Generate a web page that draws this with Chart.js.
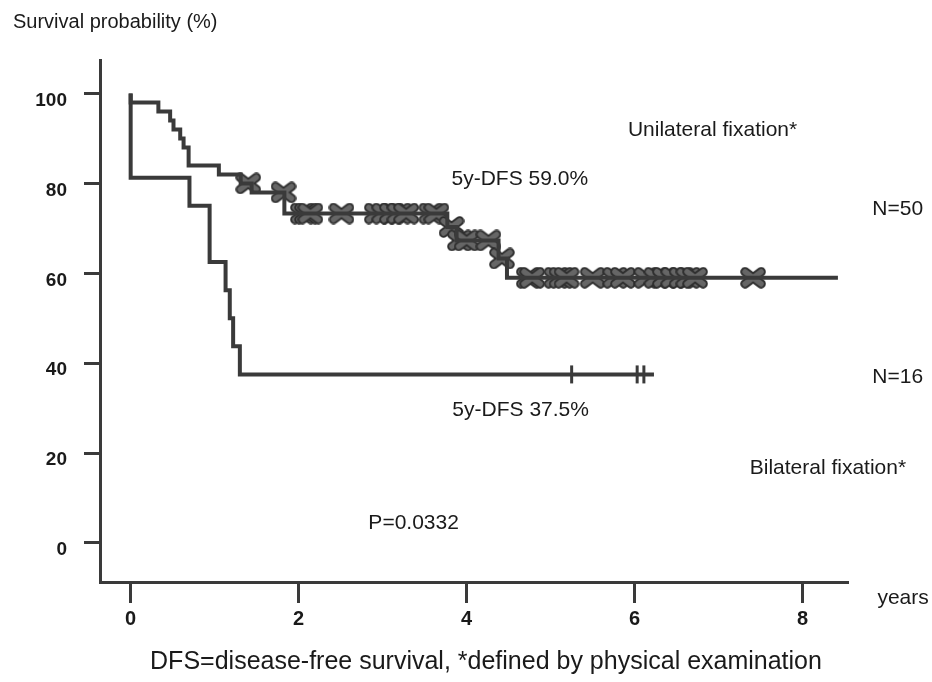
<!DOCTYPE html>
<html>
<head>
<meta charset="utf-8">
<script src="https://cdn.jsdelivr.net/npm/chart.js@4.4.0/dist/chart.umd.min.js"></script>
<style>
  html, body { margin: 0; padding: 0; background: #fff; }
  #wrap { width: 932px; height: 682px; }
</style>
</head>
<body>
<div id="wrap"><canvas id="kmChart" width="932" height="682"></canvas></div>
<script>
// Kaplan-Meier steps (time in years, survival in %)
const uniTimes = [0, 0, 0.33, 0.47, 0.51, 0.59, 0.63, 0.69, 1.05, 1.31, 1.44, 1.83, 3.77, 3.88, 4.38, 4.48, 8.42];
const uniSurv  = [100, 98, 96, 94, 92, 90, 88, 84, 82, 80, 78, 73.3, 70.3, 67.3, 63.3, 59.0, 59.0];
const uniCensored = [1.40, 1.82, 2.05, 2.10, 2.14, 2.51, 2.93, 3.02, 3.11, 3.20, 3.28, 3.58, 3.64,
                     3.82, 3.92, 4.00, 4.26, 4.42, 4.74, 4.78, 5.07, 5.13, 5.19, 5.50, 5.77, 5.86,
                     6.14, 6.26, 6.36, 6.46, 6.56, 6.64, 6.72, 7.41];

const biTimes = [0, 0, 0.70, 0.94, 1.13, 1.18, 1.22, 1.30, 6.23];
const biSurv  = [100, 81.25, 75, 62.5, 56.25, 50, 43.75, 37.5, 37.5];
const biCensored = [5.25, 6.03, 6.11];

const xTicks = [0, 2, 4, 6, 8];
const yTicks = [0, 20, 40, 60, 80, 100];

// text notes placed in data units
const noteLabels = ['Unilateral fixation*', '5y-DFS 59.0%', 'N=50', 'N=16',
                    '5y-DFS 37.5%', 'Bilateral fixation*', 'P=0.0332', 'years'];
const noteX = [5.92, 3.82, 8.83, 8.83, 3.83, 7.37, 2.83, 8.89];
const noteY = [91.8, 81.0, 74.2, 36.9, 29.6, 16.7, 4.4, -12.2];

const FONT = '"Liberation Sans", Arial, Helvetica, sans-serif';
const INK = '#1a1a1a';
const LINE = '#3a3a3a';

// value of a step curve at time t
function survivalAt(times, surv, t) {
    let s = surv[0];
    for (let i = 0; i < times.length; i++) {
        if (times[i] <= t) s = surv[i];
    }
    return s;
}

// fat X like the scanned censor marks
function makeCross() {
    const c = document.createElement('canvas');
    c.width = 26; c.height = 22;
    const g = c.getContext('2d');
    g.lineCap = 'round';
    const draw = (w, col) => {
        g.strokeStyle = col;
        g.lineWidth = w;
        g.beginPath();
        g.moveTo(5, 5); g.lineTo(21, 17);
        g.moveTo(21, 5); g.lineTo(5, 17);
        g.stroke();
    };
    draw(9.5, '#2e2e2e');
    draw(5.5, '#666666');
    return c;
}

const toPoints = (times, surv) => times.map((t, i) => ({ x: t, y: surv[i] }));

const textPlugin = {
    id: 'kmText',
    afterDraw(chart) {
        const { ctx, scales: { x, y } } = chart;
        ctx.save();
        ctx.fillStyle = INK;
        ctx.textBaseline = 'middle';
        ctx.textAlign = 'left';
        ctx.font = '21px ' + FONT;
        noteLabels.forEach((label, i) => {
            ctx.fillText(label, x.getPixelForValue(noteX[i]), y.getPixelForValue(noteY[i]));
        });
        ctx.font = '20px ' + FONT;
        ctx.fillText('Survival probability (%)', 13, 22);
        ctx.font = '25px ' + FONT;
        ctx.textAlign = 'center';
        ctx.fillText('DFS=disease-free survival, *defined by physical examination', 486, 662);
        ctx.restore();
    }
};

function initChart() {
    const ctx = document.getElementById('kmChart').getContext('2d');
    const cross = makeCross();

    const data = {
        datasets: [
            {
                label: 'Unilateral fixation',
                data: toPoints(uniTimes, uniSurv),
                stepped: 'before',
                borderColor: LINE,
                borderWidth: 4,
                pointRadius: 0,
                fill: false
            },
            {
                label: 'Bilateral fixation',
                data: toPoints(biTimes, biSurv),
                stepped: 'before',
                borderColor: LINE,
                borderWidth: 4,
                pointRadius: 0,
                fill: false
            },
            {
                label: 'Unilateral censored',
                data: uniCensored.map(t => ({ x: t, y: survivalAt(uniTimes, uniSurv, t) })),
                showLine: false,
                pointStyle: cross,
                pointRadius: 11
            },
            {
                label: 'Bilateral censored',
                data: biCensored.map(t => ({ x: t, y: survivalAt(biTimes, biSurv, t) })),
                showLine: false,
                pointStyle: 'line',
                rotation: 90,
                pointRadius: 9,
                pointBorderWidth: 3,
                pointBorderColor: LINE
            }
        ]
    };

    const config = {
        type: 'line',
        data: data,
        plugins: [textPlugin],
        options: {
            responsive: false,
            animation: false,
            events: [],
            devicePixelRatio: 1,
            layout: { padding: { top: 60, right: 84, left: 0, bottom: 0 } },
            plugins: {
                legend: { display: false },
                tooltip: { enabled: false }
            },
            scales: {
                x: {
                    type: 'linear',
                    min: -0.365,
                    max: 8.54,
                    afterFit: (scale) => { scale.height = 100; },
                    afterBuildTicks: (scale) => { scale.ticks = xTicks.map(v => ({ value: v })); },
                    border: { display: true, color: LINE, width: 3 },
                    grid: {
                        drawOnChartArea: false,
                        drawTicks: true,
                        tickLength: 21,
                        tickWidth: 3,
                        tickColor: LINE
                    },
                    ticks: {
                        padding: 4,
                        color: INK,
                        font: { family: FONT, size: 20, weight: 'bold' }
                    }
                },
                y: {
                    type: 'linear',
                    min: -8.68,
                    max: 107.45,
                    afterFit: (scale) => { scale.width = 100; },
                    afterBuildTicks: (scale) => { scale.ticks = yTicks.map(v => ({ value: v })); },
                    border: { display: true, color: LINE, width: 3 },
                    grid: {
                        drawOnChartArea: false,
                        drawTicks: true,
                        tickLength: 16,
                        tickWidth: 3,
                        tickColor: LINE
                    },
                    ticks: {
                        padding: 17,
                        labelOffset: 7,
                        color: INK,
                        font: { family: FONT, size: 19, weight: 'bold' }
                    }
                }
            }
        }
    };

    new Chart(ctx, config);
}

initChart();
</script>
</body>
</html>
